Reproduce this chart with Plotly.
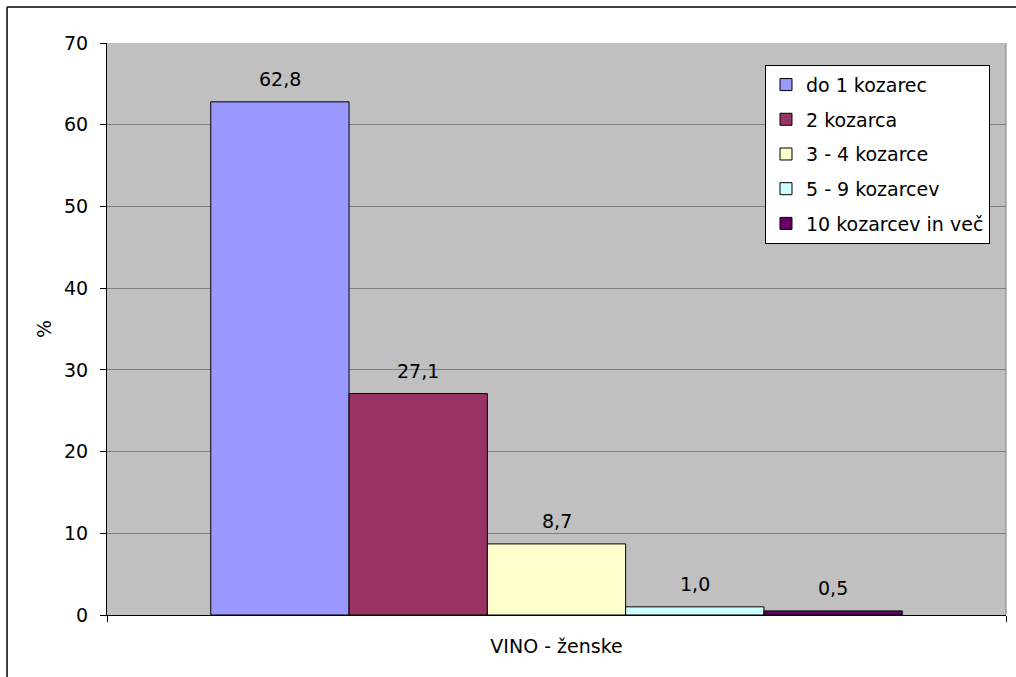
import plotly.graph_objects as go

# Category and series data
category = ["VINO - ženske"]
series_names = ["do 1 kozarec", "2 kozarca", "3 - 4 kozarce", "5 - 9 kozarcev", "10 kozarcev in več"]
values = [62.8, 27.1, 8.7, 1.0, 0.5]
colors = ["#9999FF", "#993366", "#FFFFCC", "#CCFFFF", "#660066"]
y_ticks = [0, 10, 20, 30, 40, 50, 60, 70]

FONT = "DejaVu Sans"
FS = 19

fig = go.Figure()
for name, val, col in zip(series_names, values, colors):
    fig.add_trace(go.Bar(
        x=category, y=[val], name=name, legendgroup=name,
        marker=dict(color=col, line=dict(color="black", width=1)),
    ))

# Value labels above each bar, decimal comma
n = len(values)
for i, val in enumerate(values):
    fig.add_annotation(
        x=category[0], y=val, xref="x", yref="y",
        text=f"{val:.1f}".replace(".", ","),
        showarrow=False, yanchor="bottom", yshift=10,
        xshift=(i - (n - 1) / 2) * 138.3,
        font=dict(family=FONT, size=FS, color="black"),
    )

fig.update_layout(
    width=1016, height=677,
    margin=dict(l=107, r=10, t=43, b=62),
    paper_bgcolor="white",
    plot_bgcolor="#C0C0C0",
    barmode="group",
    bargap=0.2308,
    bargroupgap=0,
    font=dict(family=FONT, size=FS, color="black"),
    showlegend=True,
    legend=dict(
        x=0.9822, xanchor="right", y=0.962, yanchor="top",
        bgcolor="white", bordercolor="black", borderwidth=1,
        font=dict(family=FONT, size=FS, color="black"),
        itemwidth=30, tracegroupgap=7,
    ),
    xaxis=dict(
        type="category", range=[-0.5, 0.5],
        showline=True, linecolor="black", linewidth=1,
        ticks="outside", ticklen=6, tickcolor="black", tickson="boundaries",
        ticklabelstandoff=14,
        showgrid=False, zeroline=False,
        tickfont=dict(family=FONT, size=FS),
    ),
    yaxis=dict(
        range=[0, 70], tickvals=y_ticks,
        showline=True, linecolor="black", linewidth=1,
        ticks="outside", ticklen=6, tickcolor="black",
        ticklabelstandoff=8,
        showgrid=True, gridcolor="#808080", gridwidth=1,
        zeroline=False,
        tickfont=dict(family=FONT, size=FS),
        title=dict(text="%", font=dict(family=FONT, size=FS), standoff=7),
    ),
    shapes=[
        # chart border (left and top edges)
        dict(type="line", xref="paper", yref="paper", x0=-0.1112, x1=1.2, y0=1.0629, y1=1.0629,
             line=dict(color="black", width=1.5)),
        dict(type="line", xref="paper", yref="paper", x0=-0.1112, x1=-0.1112, y0=-0.2, y1=1.0629,
             line=dict(color="black", width=1.5)),
        # plot area frame on right edge
        dict(type="line", xref="paper", yref="paper", x0=1, x1=1, y0=0, y1=1,
             line=dict(color="#808080", width=1)),
    ],
)

fig.write_html("out.html")
